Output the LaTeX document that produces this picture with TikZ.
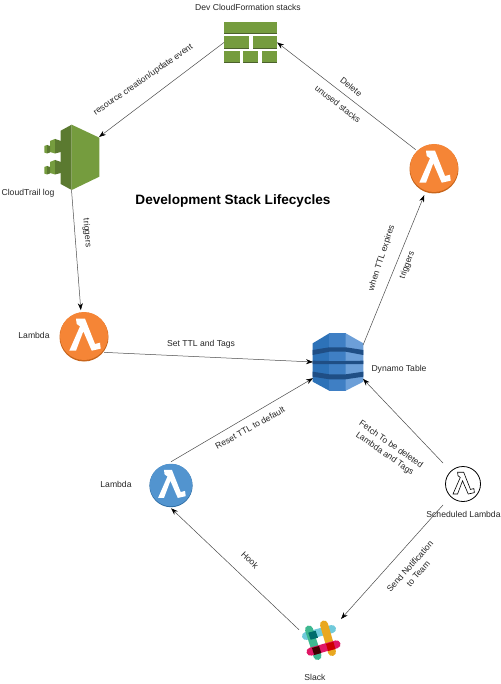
\documentclass[tikz,border=0pt]{standalone}
\usepackage{fontspec}
\setmainfont{Liberation Sans}
\usetikzlibrary{positioning,arrows.meta}

\definecolor{stackgreen}{HTML}{759C3E}
\definecolor{stackdark}{HTML}{4B612C}
\definecolor{trailleft}{HTML}{5B7A30}
\definecolor{lamorange}{HTML}{F58536}
\definecolor{lamedge}{HTML}{C8651B}
\definecolor{lamblue}{HTML}{5294CF}
\definecolor{lamblueedge}{HTML}{2E6DA4}
\definecolor{dynoleft}{HTML}{2D72B8}
\definecolor{dynomid}{HTML}{3F7FC4}
\definecolor{dynoright}{HTML}{6C9FD8}
\definecolor{dynodark}{HTML}{1F4E85}
\definecolor{slackteal}{HTML}{70CADB}
\definecolor{slackyellow}{HTML}{E9A820}
\definecolor{slackgreen}{HTML}{3EB890}
\definecolor{slackred}{HTML}{E01765}

\tikzset{
  lbl/.style={font=\fontsize{8.6}{10}\selectfont, inner sep=0, align=center, text=black!85},
  link/.style={line width=0.5, color=black!70, -{Stealth[length=7pt,width=5pt,color=black]}},
  iconbox/.style={rectangle, inner sep=0, outer sep=0},
  lamcircle/.style={circle, inner sep=0, outer sep=2}
}

% lambda mark: centre, scale, draw options
\newcommand{\lambdamark}[3]{
\draw[shift={(#1)}, scale=#2, #3] (-8,-17.3) -- (1,-17.3) -- (11,8) -- (16,6.7) -- (16.7,12.7) -- (7.7,14.7)
  -- (-0.7,-4.7) -- (-8,14.7) -- (-14.7,14.7) -- (-4,-9.7) -- (-7.3,-12) -- cycle;
}

\begin{document}
\begin{tikzpicture}[x=1pt, y=-1pt]
\useasboundingbox (0,0) rectangle (500,684);
\fill[white] (0,0) rectangle (500,684);

% stacks
\node[iconbox, minimum width=53, minimum height=41.5] (stacks) at (250.6,42.4) {};
\foreach \xa/\ya/\xb/\yb in {224.3/21.7/277/34.3, 224.3/36/249/49.3, 252.7/36/277/49.3,
  224.3/50.7/240/63, 243.3/50.7/258.3/63, 261.7/50.7/277/63} {
  \fill[stackdark] (\xa,\ya) rectangle (\xb,\yb);
  \fill[stackgreen] (\xa,\ya) rectangle (\xb,\yb-1.2);
}
\node[lbl] (stackstxt) at (248,7) {Dev CloudFormation stacks};

% cloudtrail
\node[iconbox, minimum width=55, minimum height=66] (trail) at (71.5,157) {};
\foreach \dy in {0,21} {
  \fill[stackgreen] (50,141+\dy) -- (55,139+\dy) -- (55,153.5+\dy) -- (50,152+\dy) -- cycle;
  \fill[trailleft] (55,139+\dy) -- (61,141+\dy) -- (61,152+\dy) -- (55,153.5+\dy) -- cycle;
  \fill[stackgreen] (44.3,146+\dy) -- (47,145+\dy) -- (47,153.5+\dy) -- (44.3,152.5+\dy) -- cycle;
  \fill[trailleft] (47,145+\dy) -- (50,146+\dy) -- (50,152.5+\dy) -- (47,153.5+\dy) -- cycle;
}
\fill[trailleft] (60.7,130.7) -- (71.7,124.7) -- (71.7,190) -- (60.7,184) -- cycle;
\fill[stackgreen] (71.7,124.7) -- (99.3,137.7) -- (99.3,176.7) -- (71.7,190) -- cycle;
\node[lbl] (trailtxt) at (28,193) {CloudTrail log};

% lambdas
\fill[lamedge] (434,169) circle (24.5);
\node[lamcircle, minimum size=48, fill=lamorange] (lamdelete) at (434,168) {};
\lambdamark{lamdelete.center}{1}{fill=white, draw=none}

\fill[lamedge] (84,337) circle (24.5);
\node[lamcircle, minimum size=48, fill=lamorange] (lamset) at (84,336) {};
\lambdamark{lamset.center}{1}{fill=white, draw=none}
\node[lbl] (lamsettxt) at (34,335) {Lambda};

\fill[lamblueedge] (171,485.6) circle (21.6);
\node[lamcircle, minimum size=42.5, fill=lamblue] (lamreset) at (171,485) {};
\lambdamark{lamreset.center}{0.88}{fill=white, draw=none}
\node[lbl] (lamresettxt) at (116,484) {Lambda};

\node[iconbox, minimum width=40, minimum height=42] (sched) at (463,484) {};
\draw[line width=0.8] (sched.center) circle (17.5);
\lambdamark{sched.center}{0.68}{fill=white, draw=black, line width=0.6}
\node[lbl] (schedtxt) at (463.5,514.5) {Scheduled Lambda};

% dynamo
\node[iconbox, minimum width=50, minimum height=58] (dyno) at (338,362) {};
\fill[dynoleft] (312.7,343.3) -- (329.3,333.3) -- (329.3,390.7) -- (312.7,381.7) -- cycle;
\fill[dynomid] (329.3,333.3) -- (345.7,333.3) -- (345.7,390.7) -- (329.3,390.7) -- cycle;
\fill[dynoright] (345.7,333.3) -- (363.3,343.3) -- (363.3,381.7) -- (345.7,390.7) -- cycle;
\fill[dynodark] (312.7,350) -- (329.3,347.3) -- (345.7,347.3) -- (363.3,350) -- (363.3,355)
  -- (345.7,351.7) -- (329.3,351.7) -- (312.7,355) -- cycle;
\fill[dynodark] (312.7,360.7) -- (329.3,361) -- (345.7,361) -- (363.3,360.7) -- (363.3,364)
  -- (345.7,364) -- (329.3,364) -- (312.7,364) -- cycle;
\fill[dynodark] (312.7,371.7) -- (329.3,374.3) -- (345.7,374.3) -- (363.3,371.7) -- (363.3,376.7)
  -- (345.7,379.3) -- (329.3,379.3) -- (312.7,376.7) -- cycle;
\node[lbl] (dynotxt) at (399,369) {Dynamo Table};

% slack
\node[iconbox, minimum width=42, minimum height=42] (slack) at (320,640) {};
\draw[line width=8, line cap=round, color=slackteal] (306,636) -- (332,629);
\draw[line width=8, line cap=round, color=slackyellow] (324,624.5) -- (332,652);
\draw[line width=8, line cap=round, color=slackgreen] (309,629.5) -- (317.5,656);
\fill[teal!85!black] (308.3,632.7) -- (315.6,630.7) -- (318,637.7) -- (310.6,639.7) -- cycle;
\draw[line width=8, line cap=round, color=slackred] (310.5,651.7) -- (336.5,644.3);
\fill[black!75!red] (311.9,647.9) -- (319,646) -- (321.3,653) -- (314.2,655) -- cycle;
\fill[red!80!black] (326,643.9) -- (333.4,641.8) -- (335.4,649) -- (328,651) -- cycle;
\node[lbl] (slacktxt) at (315,677) {Slack};

\node[font=\fontsize{13.6}{15}\selectfont\bfseries, inner sep=0] (title) at (233,201) {Development Stack Lifecycles};

% connectors
\draw[link] (stacks.west) -- (trail.36);
\draw[link] (lamdelete.135) -- (stacks.east);
\draw[link] (trail.south) -- (lamset.97);
\draw[link] (lamset.-39) -- (dyno.west);
\draw[link] (dyno.34) -- ([yshift=-3]lamdelete.-112);
\draw[link] (lamreset.north) -- (dyno.213);
\draw[link] (sched.north west) -- (dyno.-34);
\draw[link] (sched.south west) -- (slack.north east);
\draw[link] (slack.154) -- (lamreset.south);

% connector labels
\node[lbl, rotate=34.6] (eventtxt) at (143.3,80) {resource creation/update event};
\node[lbl, rotate=-38] (deletetxt) at (344.6,95.5) {Delete\\[11.5pt]unused stacks};
\node[lbl, rotate=-85] (trigtxt) at (87,233) {triggers};
\node[lbl] (settxt) at (201,344) {Set TTL and Tags};
\node[lbl, rotate=72] (whentxt) at (381.7,258) {when TTL expires};
\node[lbl, rotate=70] (trigtwotxt) at (407.3,265) {triggers};
\node[lbl, rotate=29] (resettxt) at (250,428) {Reset TTL to default};
\node[lbl, rotate=-35] (fetchtxt) at (387.7,449.3) {Fetch To be deleted\\[1pt]Lambda and Tags};
\node[lbl, rotate=48.4] (sendtxt) at (414,570) {Send Notification\\[1pt]to Team};
\node[lbl, rotate=-44] (hooktxt) at (250,560) {Hook};
\end{tikzpicture}
\end{document}
